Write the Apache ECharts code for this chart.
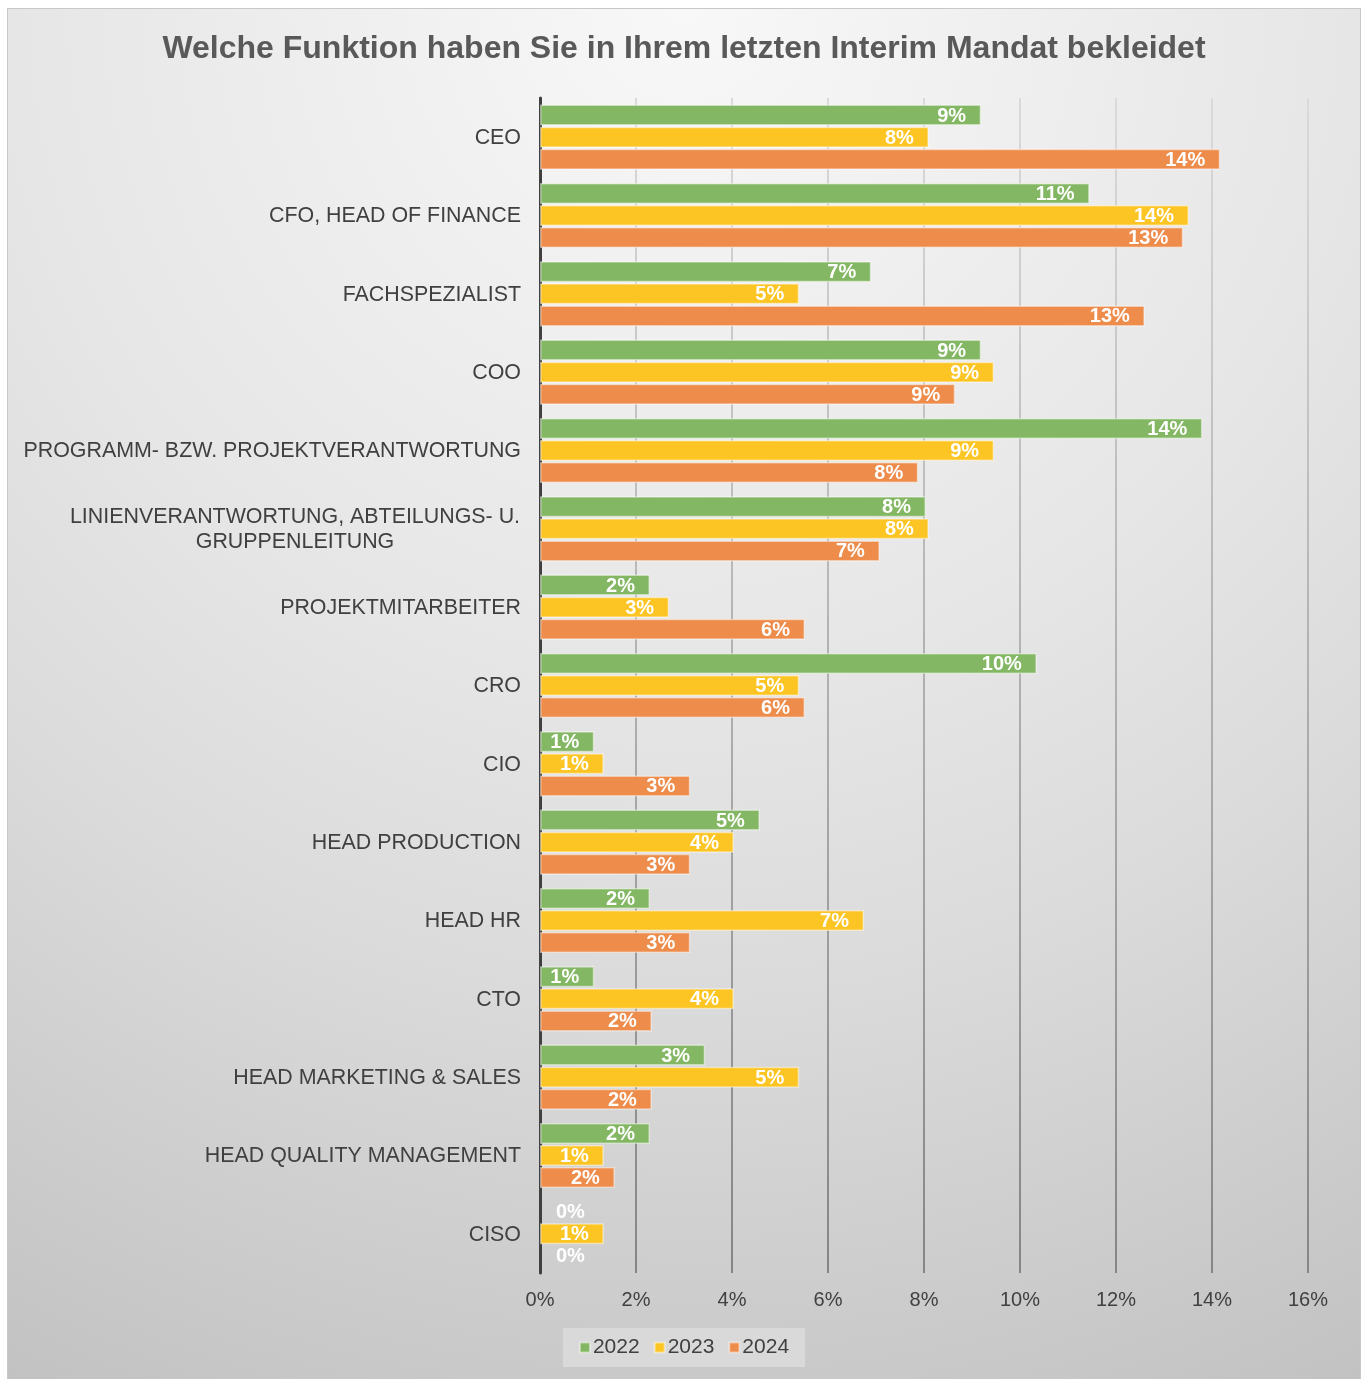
<!DOCTYPE html>
<html>
<head>
<meta charset="utf-8">
<script src="https://cdn.jsdelivr.net/npm/echarts@6/dist/echarts.min.js"></script>
<style>
  html, body { margin: 0; padding: 0; background: #ffffff; }
  #chart {
    position: absolute;
    left: 7px;
    top: 8px;
    width: 1352px;
    height: 1370px;
    border: 1px solid #c8c8c8;
    background: radial-gradient(circle farthest-corner at 50% 0%, #f8f8f8 0%, #e6e6e6 44%, #dbdbdb 64%, #c2c2c2 100%);
  }
</style>
</head>
<body>
<div id="chart"></div>
<script>
// Kategorien von oben nach unten
var categories = [
  "CEO",
  "CFO, HEAD OF FINANCE",
  "FACHSPEZIALIST",
  "COO",
  "PROGRAMM- BZW. PROJEKTVERANTWORTUNG",
  "LINIENVERANTWORTUNG, ABTEILUNGS- U.\nGRUPPENLEITUNG",
  "PROJEKTMITARBEITER",
  "CRO",
  "CIO",
  "HEAD PRODUCTION",
  "HEAD HR",
  "CTO",
  "HEAD MARKETING & SALES",
  "HEAD QUALITY MANAGEMENT",
  "CISO"
];
var years = ["2022", "2023", "2024"];
// Werte in Prozent
var values2022 = [9.19, 11.45, 6.9, 9.19, 13.8, 8.04, 2.29, 10.35, 1.13, 4.58, 2.29, 1.13, 3.44, 2.29, 0];
var values2023 = [8.1, 13.52, 5.4, 9.46, 9.46, 8.1, 2.69, 5.4, 1.33, 4.04, 6.75, 4.04, 5.4, 1.33, 1.33];
var values2024 = [14.17, 13.4, 12.6, 8.65, 7.88, 7.08, 5.52, 5.52, 3.13, 3.13, 3.13, 2.33, 2.33, 1.56, 0];
var xTicks = [0, 2, 4, 6, 8, 10, 12, 14, 16];

var colors = ["#84b763", "#fdc524", "#ed8c4b"];
var font = "Liberation Sans, Arial, sans-serif";

function makeData(arr) {
  return arr.map(function (v) {
    if (v === 0) {
      // leere Balken: Beschriftung rechts neben der Achse, kein Rand
      return { value: v, itemStyle: { borderWidth: 0 }, label: { position: "right", distance: 16 } };
    }
    return v;
  });
}

function makeSeries(name, arr, idx) {
  return {
    name: name,
    type: "bar",
    barWidth: 21,
    barGap: "5%",
    itemStyle: {
      color: colors[idx],
      borderColor: "rgba(255,255,255,0.45)",
      borderWidth: 1.5
    },
    label: {
      show: true,
      position: "insideRight",
      distance: 15,
      offset: [0, 1],
      color: "#ffffff",
      fontFamily: font,
      fontWeight: "bold",
      fontSize: 20,
      formatter: function (p) {
        return Math.round(p.value) + "%";
      }
    },
    data: makeData(arr)
  };
}

var chart = echarts.init(document.getElementById("chart"), null, { renderer: "canvas" });
var option = {
  backgroundColor: "transparent",
  animation: false,
  title: {
    text: "Welche Funktion haben Sie in Ihrem letzten Interim Mandat bekleidet",
    left: "center",
    top: 24,
    padding: 0,
    textStyle: {
      fontFamily: font,
      fontSize: 32,
      fontWeight: "bold",
      color: "#595959"
    }
  },
  legend: {
    data: years,
    bottom: 12,
    left: "center",
    backgroundColor: "#d9d9d9",
    padding: [9, 16, 9, 16],
    itemWidth: 10,
    itemHeight: 10,
    itemGap: 14,
    icon: "rect",
    textStyle: { fontFamily: font, fontSize: 21, color: "#404040", padding: [0, 0, 0, -2] }
  },
  grid: {
    left: 532,
    right: 52,
    top: 89,
    bottom: 106,
    containLabel: false
  },
  xAxis: {
    type: "value",
    min: xTicks[0],
    max: xTicks[xTicks.length - 1],
    interval: 2,
    axisLine: { show: false },
    axisTick: { show: false },
    axisLabel: {
      margin: 17,
      fontFamily: font,
      fontSize: 20,
      color: "#404040",
      formatter: function (v) { return v + "%"; }
    },
    splitLine: {
      show: true,
      lineStyle: {
        width: 2,
        color: new echarts.graphic.LinearGradient(0, 0, 0, 1, [
          { offset: 0, color: "#dadada" },
          { offset: 1, color: "#858585" }
        ])
      }
    }
  },
  yAxis: {
    type: "category",
    data: categories,
    inverse: true,
    axisLine: { show: true, lineStyle: { color: "#404040", width: 3 } },
    axisTick: { show: false },
    axisLabel: {
      margin: 19,
      fontFamily: font,
      fontSize: 21.4,
      color: "#404040",
      lineHeight: 25,
      padding: [2, 0, 0, 0],
      formatter: function (v) {
        if (v.indexOf("\n") >= 0) {
          return v.split("\n").map(function (s) { return "{c|" + s + "}"; }).join("\n");
        }
        return v;
      },
      rich: {
        c: {
          width: 452,
          align: "center",
          fontFamily: font,
          fontSize: 21.4,
          color: "#404040",
          lineHeight: 25
        }
      }
    }
  },
  series: [
    makeSeries(years[0], values2022, 0),
    makeSeries(years[1], values2023, 1),
    makeSeries(years[2], values2024, 2)
  ]
};
chart.setOption(option);
</script>
</body>
</html>
